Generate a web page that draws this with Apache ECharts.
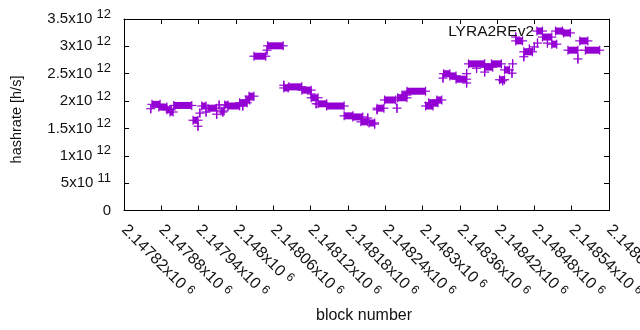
<!DOCTYPE html>
<html>
<head>
<meta charset="utf-8">
<script src="https://cdn.jsdelivr.net/npm/echarts@6/dist/echarts.min.js"></script>
<style>
html,body{margin:0;padding:0;background:#fff;}
#chart{width:640px;height:330px;}
</style>
</head>
<body>
<div id="chart"></div>
<script>
// Runs of equal hashrate: first block, last block, hashrate (h/s)
const runStart = [2147863,2147865,2147876,2147889,2147894,2147900,2147931,2147939,2147942,2147945,2147952,2147955,2147969,2147973,2147976,2147979,2147982,2147987,2148006,2148011,2148016,2148021,2148029,2148050,2148051,
  2148077,2148077,2148085,2148106,2148121,2148121,2148129,2148132,2148146,2148174,2148188,2148201,2148212,2148214,2148223,
  2148227,2148227,2148239,2148259,2148260,2148267,2148275,2148305,2148310,2148323,2148333,2148334,2148344,2148354,2148371,2148371,
  2148374,2148387,2148400,2148400,2148411,2148424,2148429,2148432,2148444,2148445,2148450,2148450,2148463,2148463,2148472,2148480,2148485,
  2148484,2148493,2148501,2148508,2148514,2148527,2148534,2148550,2148553,2148562];
const runEnd = [2147863,2147878,2147889,2147896,2147899,2147929,2147939,2147939,2147942,2147952,2147952,2147969,2147969,2147973,2147981,2147979,2147987,2148006,2148018,2148011,2148022,2148029,2148048,2148050,2148076,
  2148077,2148084,2148106,2148121,2148121,2148132,2148129,2148146,2148174,2148188,2148204,2148212,2148212,2148223,2148223,
  2148227,2148238,2148257,2148259,2148275,2148275,2148305,2148317,2148325,2148331,2148333,2148344,2148354,2148371,2148371,2148371,
  2148400,2148387,2148413,2148400,2148427,2148432,2148429,2148440,2148444,2148445,2148450,2148461,2148463,2148477,2148472,2148480,2148485,
  2148493,2148508,2148501,2148516,2148525,2148538,2148550,2148550,2148566,2148585];
const hashrate = [1.86e12,1.94e12,1.89e12,1.84e12,1.80e12,1.92e12,1.65e12,1.54e12,1.78e12,1.91e12,1.80e12,1.87e12,1.76e12,1.93e12,1.82e12,1.80e12,1.93e12,1.91e12,1.97e12,1.91e12,2.02e12,2.09e12,2.82e12,2.93e12,3.01e12,
  2.29e12,2.24e12,2.26e12,2.20e12,2.13e12,2.06e12,1.95e12,1.95e12,1.91e12,1.73e12,1.71e12,1.62e12,1.69e12,1.60e12,1.58e12,
  1.84e12,1.87e12,2.02e12,1.87e12,2.06e12,2.11e12,2.18e12,1.91e12,1.97e12,2.02e12,2.42e12,2.50e12,2.46e12,2.40e12,2.50e12,2.33e12,
  2.68e12,2.60e12,2.62e12,2.53e12,2.68e12,2.39e12,2.37e12,2.57e12,2.51e12,2.68e12,3.17e12,3.10e12,2.81e12,2.90e12,2.95e12,2.99e12,3.06e12,
  3.28e12,3.17e12,3.06e12,3.04e12,3.28e12,3.245e12,2.93e12,2.77e12,3.10e12,2.93e12];
const seriesName = 'LYRA2REv2';
const xMin = 2147820, xMax = 2148600, xStep = 60;
const yMin = 0, yMax = 3.5e12, yStep = 0.5e12;

const data = runStart.map((s, i) => [s, runEnd[i], hashrate[i]]);
const COLOR = '#9400d3';
const FONT = '"Liberation Sans", Arial, sans-serif';

function sci(v) {
  if (v === 0) return '{b|0}';
  const e = Math.floor(Math.log10(v) + 1e-9);
  const m = parseFloat((v / Math.pow(10, e)).toFixed(5));
  return '{b|' + m + 'x10 }{s|' + e + '}';
}
const richY = {
  b: {fontSize: 15, fontFamily: FONT, color: '#111', lineHeight: 15},
  s: {fontSize: 13, fontFamily: FONT, color: '#111', lineHeight: 13, padding: [0, 0, 10, 0]}
};
const richX = {
  b: {fontSize: 16, fontFamily: FONT, color: '#111', lineHeight: 16},
  s: {fontSize: 12, fontFamily: FONT, color: '#111', lineHeight: 12, padding: [0, 0, 6, 0]}
};

const chart = echarts.init(document.getElementById('chart'), null, {renderer: 'canvas'});
chart.setOption({
  animation: false,
  backgroundColor: '#fff',
  grid: {left: 124, right: 31, top: 19, bottom: 119.5, containLabel: false, outerBoundsMode: 'none'},
  xAxis: [{
    type: 'value', min: xMin, max: xMax, interval: xStep, position: 'bottom',
    axisLine: {show: true, onZero: false, lineStyle: {color: '#000', width: 1}},
    axisTick: {show: true, inside: true, length: 5, lineStyle: {color: '#000'}},
    splitLine: {show: false},
    axisLabel: {
      rotate: -45, align: 'left', verticalAlign: 'middle', margin: 17,
      showMinLabel: true, showMaxLabel: true, hideOverlap: false,
      formatter: v => sci(v), rich: richX
    }
  }, {
    type: 'value', min: xMin, max: xMax, interval: xStep, position: 'top',
    axisLine: {show: true, onZero: false, lineStyle: {color: '#000', width: 1}},
    axisTick: {show: true, inside: true, length: 5, lineStyle: {color: '#000'}},
    splitLine: {show: false}, axisLabel: {show: false}
  }],
  yAxis: [{
    type: 'value', min: yMin, max: yMax, interval: yStep, position: 'left',
    axisLine: {show: true, onZero: false, lineStyle: {color: '#000', width: 1}},
    axisTick: {show: true, inside: true, length: 5, lineStyle: {color: '#000'}},
    splitLine: {show: false},
    axisLabel: {margin: 13, formatter: v => sci(v), rich: richY}
  }, {
    type: 'value', min: yMin, max: yMax, interval: yStep, position: 'right',
    axisLine: {show: true, onZero: false, lineStyle: {color: '#000', width: 1}},
    axisTick: {show: true, inside: true, length: 5, lineStyle: {color: '#000'}},
    splitLine: {show: false}, axisLabel: {show: false}
  }],
  graphic: [
    {type: 'text', x: 364, y: 316, style: {text: 'block number', font: '16px ' + FONT, fill: '#111', align: 'center', verticalAlign: 'middle'}},
    {type: 'text', x: 16.5, y: 119.5, rotation: Math.PI / 2, style: {text: 'hashrate [h/s]', font: '14.5px ' + FONT, fill: '#111', align: 'center', verticalAlign: 'middle'}},
    {type: 'text', x: 534, y: 32, style: {text: seriesName, font: '15.5px ' + FONT, fill: '#111', align: 'right', verticalAlign: 'middle'}, z: 10}
  ],
  series: [{
    type: 'custom', name: seriesName, xAxisIndex: 0, yAxisIndex: 0,
    encode: {x: [0, 1], y: 2},
    data: data,
    renderItem: function (params, api) {
      const v = api.value(2);
      const a = api.coord([api.value(0), v]);
      const b = api.coord([api.value(1), v]);
      const H = 3.5, A = 4.5;
      const children = [];
      if (b[0] - a[0] > 0.5) {
        children.push({type: 'rect', shape: {x: a[0], y: a[1] - H, width: b[0] - a[0], height: 2 * H}, style: {fill: COLOR}});
      }
      children.push({type: 'line', shape: {x1: a[0] - A, y1: a[1], x2: b[0] + A, y2: b[1]}, style: {stroke: COLOR, lineWidth: 1.2}});
      [a, b].forEach(p => children.push({type: 'line', shape: {x1: p[0], y1: p[1] - A, x2: p[0], y2: p[1] + A}, style: {stroke: COLOR, lineWidth: 1.2}}));
      return {type: 'group', children: children};
    }
  }]
});
</script>
</body>
</html>
